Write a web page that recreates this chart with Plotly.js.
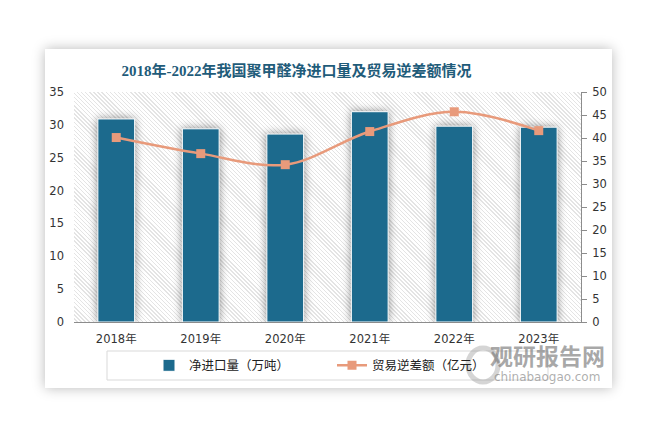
<!DOCTYPE html>
<html>
<head>
<meta charset="utf-8">
<script src="https://cdn.plot.ly/plotly-3.0.1.min.js"></script>
<style>
  html, body { margin: 0; padding: 0; background: #ffffff; width: 660px; height: 436px; overflow: hidden; }
  #card { position: absolute; left: 45px; top: 49px; width: 567px; height: 339px; background: #fff;
          box-shadow: 0 0 12px rgba(0,0,0,0.28); }
  #hatch { position: absolute; left: 74px; top: 92px; width: 507px; height: 230px;
           background: repeating-linear-gradient(45deg, #ffffff 0px, #ffffff 1.9px, #e4e4e4 1.9px, #e4e4e4 2.9px); }
  #chart { position: absolute; left: 0; top: 0; width: 660px; height: 436px; }
  #chart .bars .point path { filter: drop-shadow(0px 0px 4px rgba(0,0,0,0.45)); }
</style>
</head>
<body>
<div id="card"></div>
<div id="hatch"></div>
<div id="chart"></div>
<script>
const categories = ['2018年', '2019年', '2020年', '2021年', '2022年', '2023年'];
const netImport = [30.9, 29.4, 28.6, 32.0, 29.8, 29.65];     // 净进口量（万吨）
const tradeDeficit = [40.1, 36.6, 34.2, 41.4, 45.7, 41.6];  // 贸易逆差额（亿元）
const leftTicks = [0, 5, 10, 15, 20, 25, 30, 35];
const rightTicks = [0, 5, 10, 15, 20, 25, 30, 35, 40, 45, 50];
const seriesNames = ['净进口量（万吨）', '贸易逆差额（亿元）'];
const titleText = '2018年-2022年我国聚甲醛净进口量及贸易逆差额情况';

const tickFont = { family: 'DejaVu Sans, Noto Sans CJK SC, sans-serif', size: 11.5, color: '#333333' };

const traces = [
  {
    type: 'bar', name: seriesNames[0], x: categories, y: netImport, yaxis: 'y',
    marker: { color: '#1c6a8d', line: { color: '#ffffff', width: 1 } },
    hoverinfo: 'skip'
  },
  {
    type: 'scatter', mode: 'lines+markers', name: seriesNames[1], x: categories, y: tradeDeficit, yaxis: 'y2',
    line: { color: '#e89a7b', width: 2.5, shape: 'spline', smoothing: 1 },
    marker: { symbol: 'square', size: 9, color: '#e89a7b' },
    hoverinfo: 'skip'
  }
];

const layout = {
  width: 660, height: 436,
  margin: { l: 74, r: 79, t: 92, b: 114 },
  paper_bgcolor: 'rgba(0,0,0,0)',
  plot_bgcolor: 'rgba(0,0,0,0)',
  bargap: 0.565,
  showlegend: true,
  title: {
    text: titleText,
    font: { family: 'Liberation Serif, Noto Sans CJK SC, serif', size: 15, color: '#1f5c7a', weight: 'bold' },
    x: (296.5 - 74) / 507, xanchor: 'center', xref: 'paper',
    y: 1 - 71 / 436, yref: 'container', yanchor: 'middle',
    automargin: false
  },
  xaxis: {
    type: 'category',
    showgrid: false, zeroline: false,
    showline: true, linecolor: '#8c8c8c', linewidth: 1,
    ticks: '', tickfont: tickFont, ticklabelstandoff: 6
  },
  yaxis: {
    range: [0, 35], tickvals: leftTicks,
    showgrid: false, zeroline: false, showline: false, ticks: '',
    tickfont: tickFont, ticklabelstandoff: 9
  },
  yaxis2: {
    range: [0, 50], tickvals: rightTicks, overlaying: 'y', side: 'right',
    showgrid: false, zeroline: false,
    showline: true, linecolor: '#8c8c8c', linewidth: 1,
    ticks: 'outside', ticklen: 5, tickcolor: '#8c8c8c',
    tickfont: tickFont, ticklabelstandoff: 3
  },
  legend: {
    orientation: 'h', x: (149 - 74) / 507, xanchor: 'left', xref: 'paper',
    y: (322 - 365.7) / 230, yanchor: 'middle', yref: 'paper',
    bgcolor: 'rgba(0,0,0,0)', borderwidth: 0,
    entrywidth: 138, entrywidthmode: 'pixels',
    font: { family: 'Noto Sans CJK SC, sans-serif', size: 12.5, color: '#222222' }
  },
  shapes: [
    { type: 'rect', xref: 'paper', yref: 'paper',
      x0: (107 - 74) / 507, x1: (548 - 74) / 507, y0: (322 - 351) / 230, y1: (322 - 380) / 230,
      line: { color: '#d9d9d9', width: 1 }, fillcolor: 'rgba(0,0,0,0)', layer: 'below' },
    { type: 'circle', xref: 'paper', yref: 'paper',
      x0: (468 - 74) / 507, x1: (498 - 74) / 507, y0: (322 - 348) / 230, y1: (322 - 382) / 230,
      line: { color: 'rgba(150,150,150,0.4)', width: 5 }, fillcolor: 'rgba(0,0,0,0)' }
  ],
  annotations: [
    { text: '观研报告网', xref: 'paper', yref: 'paper', x: (547 - 74) / 507, y: (322 - 355) / 230,
      xanchor: 'center', yanchor: 'middle', showarrow: false,
      font: { family: 'Noto Sans CJK SC, sans-serif', size: 23, color: 'rgba(110,110,110,0.6)', weight: 'bold' } },
    { text: 'chinabaogao.com', xref: 'paper', yref: 'paper', x: (547 - 74) / 507, y: (322 - 377) / 230,
      xanchor: 'center', yanchor: 'middle', showarrow: false,
      font: { family: 'DejaVu Sans, sans-serif', size: 12, color: 'rgba(120,120,120,0.6)' } }
  ]
};

Plotly.newPlot('chart', traces, layout, { displayModeBar: false, staticPlot: true });
</script>
</body>
</html>
